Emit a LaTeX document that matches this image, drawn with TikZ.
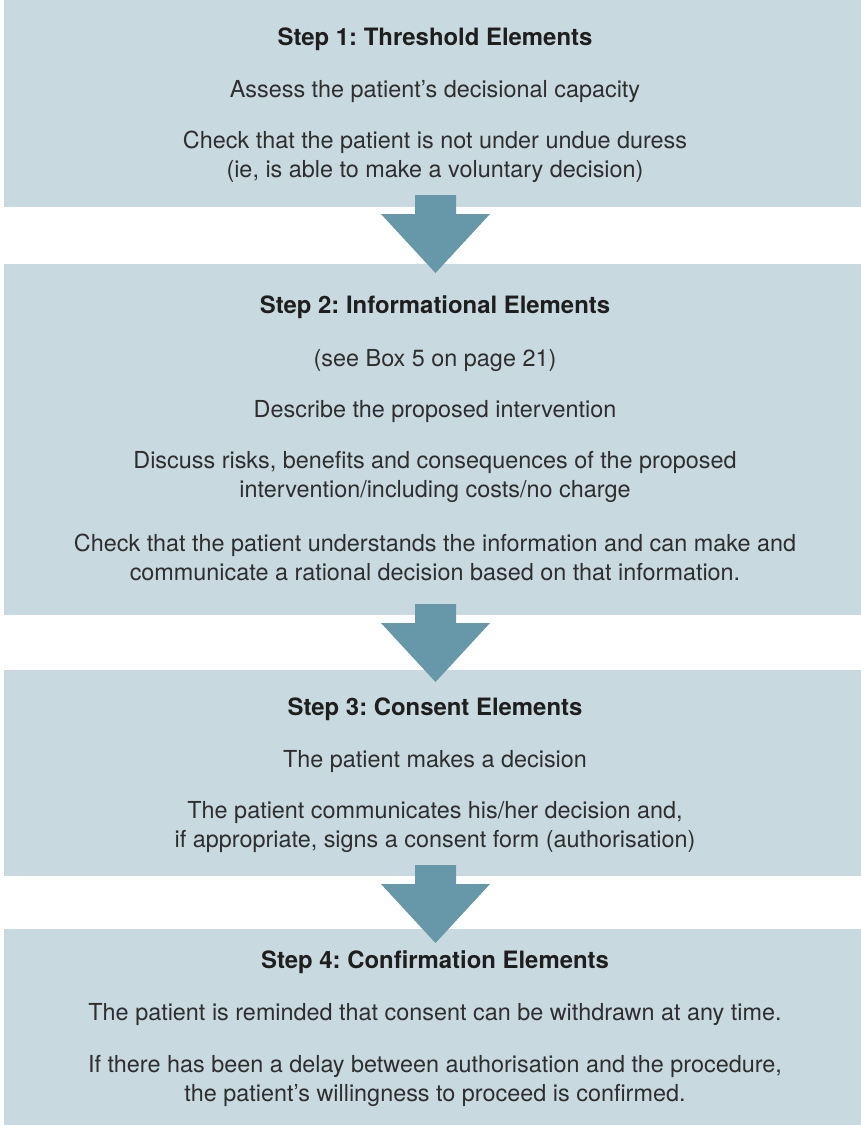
\documentclass[tikz,border=0pt]{standalone}
\usepackage{fontspec}
\setmainfont{TeX Gyre Heros}
\definecolor{boxfill}{HTML}{C8D9E0}
\definecolor{arrowfill}{HTML}{6698A9}
\definecolor{txt}{HTML}{2E2E2E}
\definecolor{ttl}{HTML}{1E1E1E}
\tikzset{
  stepbox/.style={rectangle, fill=boxfill, draw=none, inner sep=0pt, anchor=north west, minimum width=857pt},
  body/.style={anchor=base, inner sep=0pt, text=txt, font=\fontsize{23.4}{29}\selectfont\frenchspacing},
  title/.style={anchor=base, inner sep=0pt, text=ttl, font=\fontsize{23.9}{29}\selectfont\bfseries\frenchspacing},
  blockarrow/.style={fill=arrowfill, draw=none}
}
\newcommand{\downarrowat}[1]{%
  \fill[blockarrow] (#1) ++(-20.5,0) -- ++(41,0) -- ++(0,19) -- ++(34,0) -- ++(-54.5,59) -- ++(-54.5,-59) -- ++(34,0) -- cycle;}
\begin{document}
\begin{tikzpicture}[x=1pt,y=-1pt]
\useasboundingbox (0,0) rectangle (861,1125);
% boxes
\node[stepbox, minimum height=207pt] (b1) at (4,0) {};
\node[stepbox, minimum height=351pt] (b2) at (4,264) {};
\node[stepbox, minimum height=206pt] (b3) at (4,670) {};
\node[stepbox, minimum height=196pt] (b4) at (4,929) {};
% arrows
\coordinate (a1) at (435.5,195);
\coordinate (a2) at (435.5,604);
\coordinate (a3) at (435.5,865);
\downarrowat{a1}
\downarrowat{a2}
\downarrowat{a3}
% box 1
\node[title] (t1) at (435,45) {Step 1: Threshold Elements};
\node[body] (t1a) at (435,97) {Assess the patient’s decisional capacity};
\node[body] (t1b) at (435,148) {Check that the patient is not under undue duress};
\node[body] (t1c) at (435,177) {(ie, is able to make a voluntary decision)};
% box 2
\node[title] (t2) at (435,313) {Step 2: Informational Elements};
\node[body] (t2a) at (435,366) {(see Box 5 on page 21)};
\node[body] (t2b) at (435,417) {Describe the proposed intervention};
\node[body] (t2c) at (435,468) {Discuss risks, benefits and consequences of the proposed};
\node[body] (t2d) at (435,497) {intervention/including costs/no charge};
\node[body] (t2e) at (435,551) {Check that the patient understands the information and can make and};
\node[body] (t2f) at (435,580) {communicate a rational decision based on that information.};
% box 3
\node[title] (t3) at (435,715) {Step 3: Consent Elements};
\node[body] (t3a) at (435,767) {The patient makes a decision};
\node[body] (t3b) at (435,818) {The patient communicates his/her decision and,};
\node[body] (t3c) at (435,847) {if appropriate, signs a consent form (authorisation)};
% box 4
\node[title] (t4) at (435,968) {Step 4: Confirmation Elements};
\node[body] (t4a) at (435,1020) {The patient is reminded that consent can be withdrawn at any time.};
\node[body] (t4b) at (435,1072) {If there has been a delay between authorisation and the procedure,};
\node[body] (t4c) at (435,1101) {the patient’s willingness to proceed is confirmed.};
\end{tikzpicture}
\end{document}
